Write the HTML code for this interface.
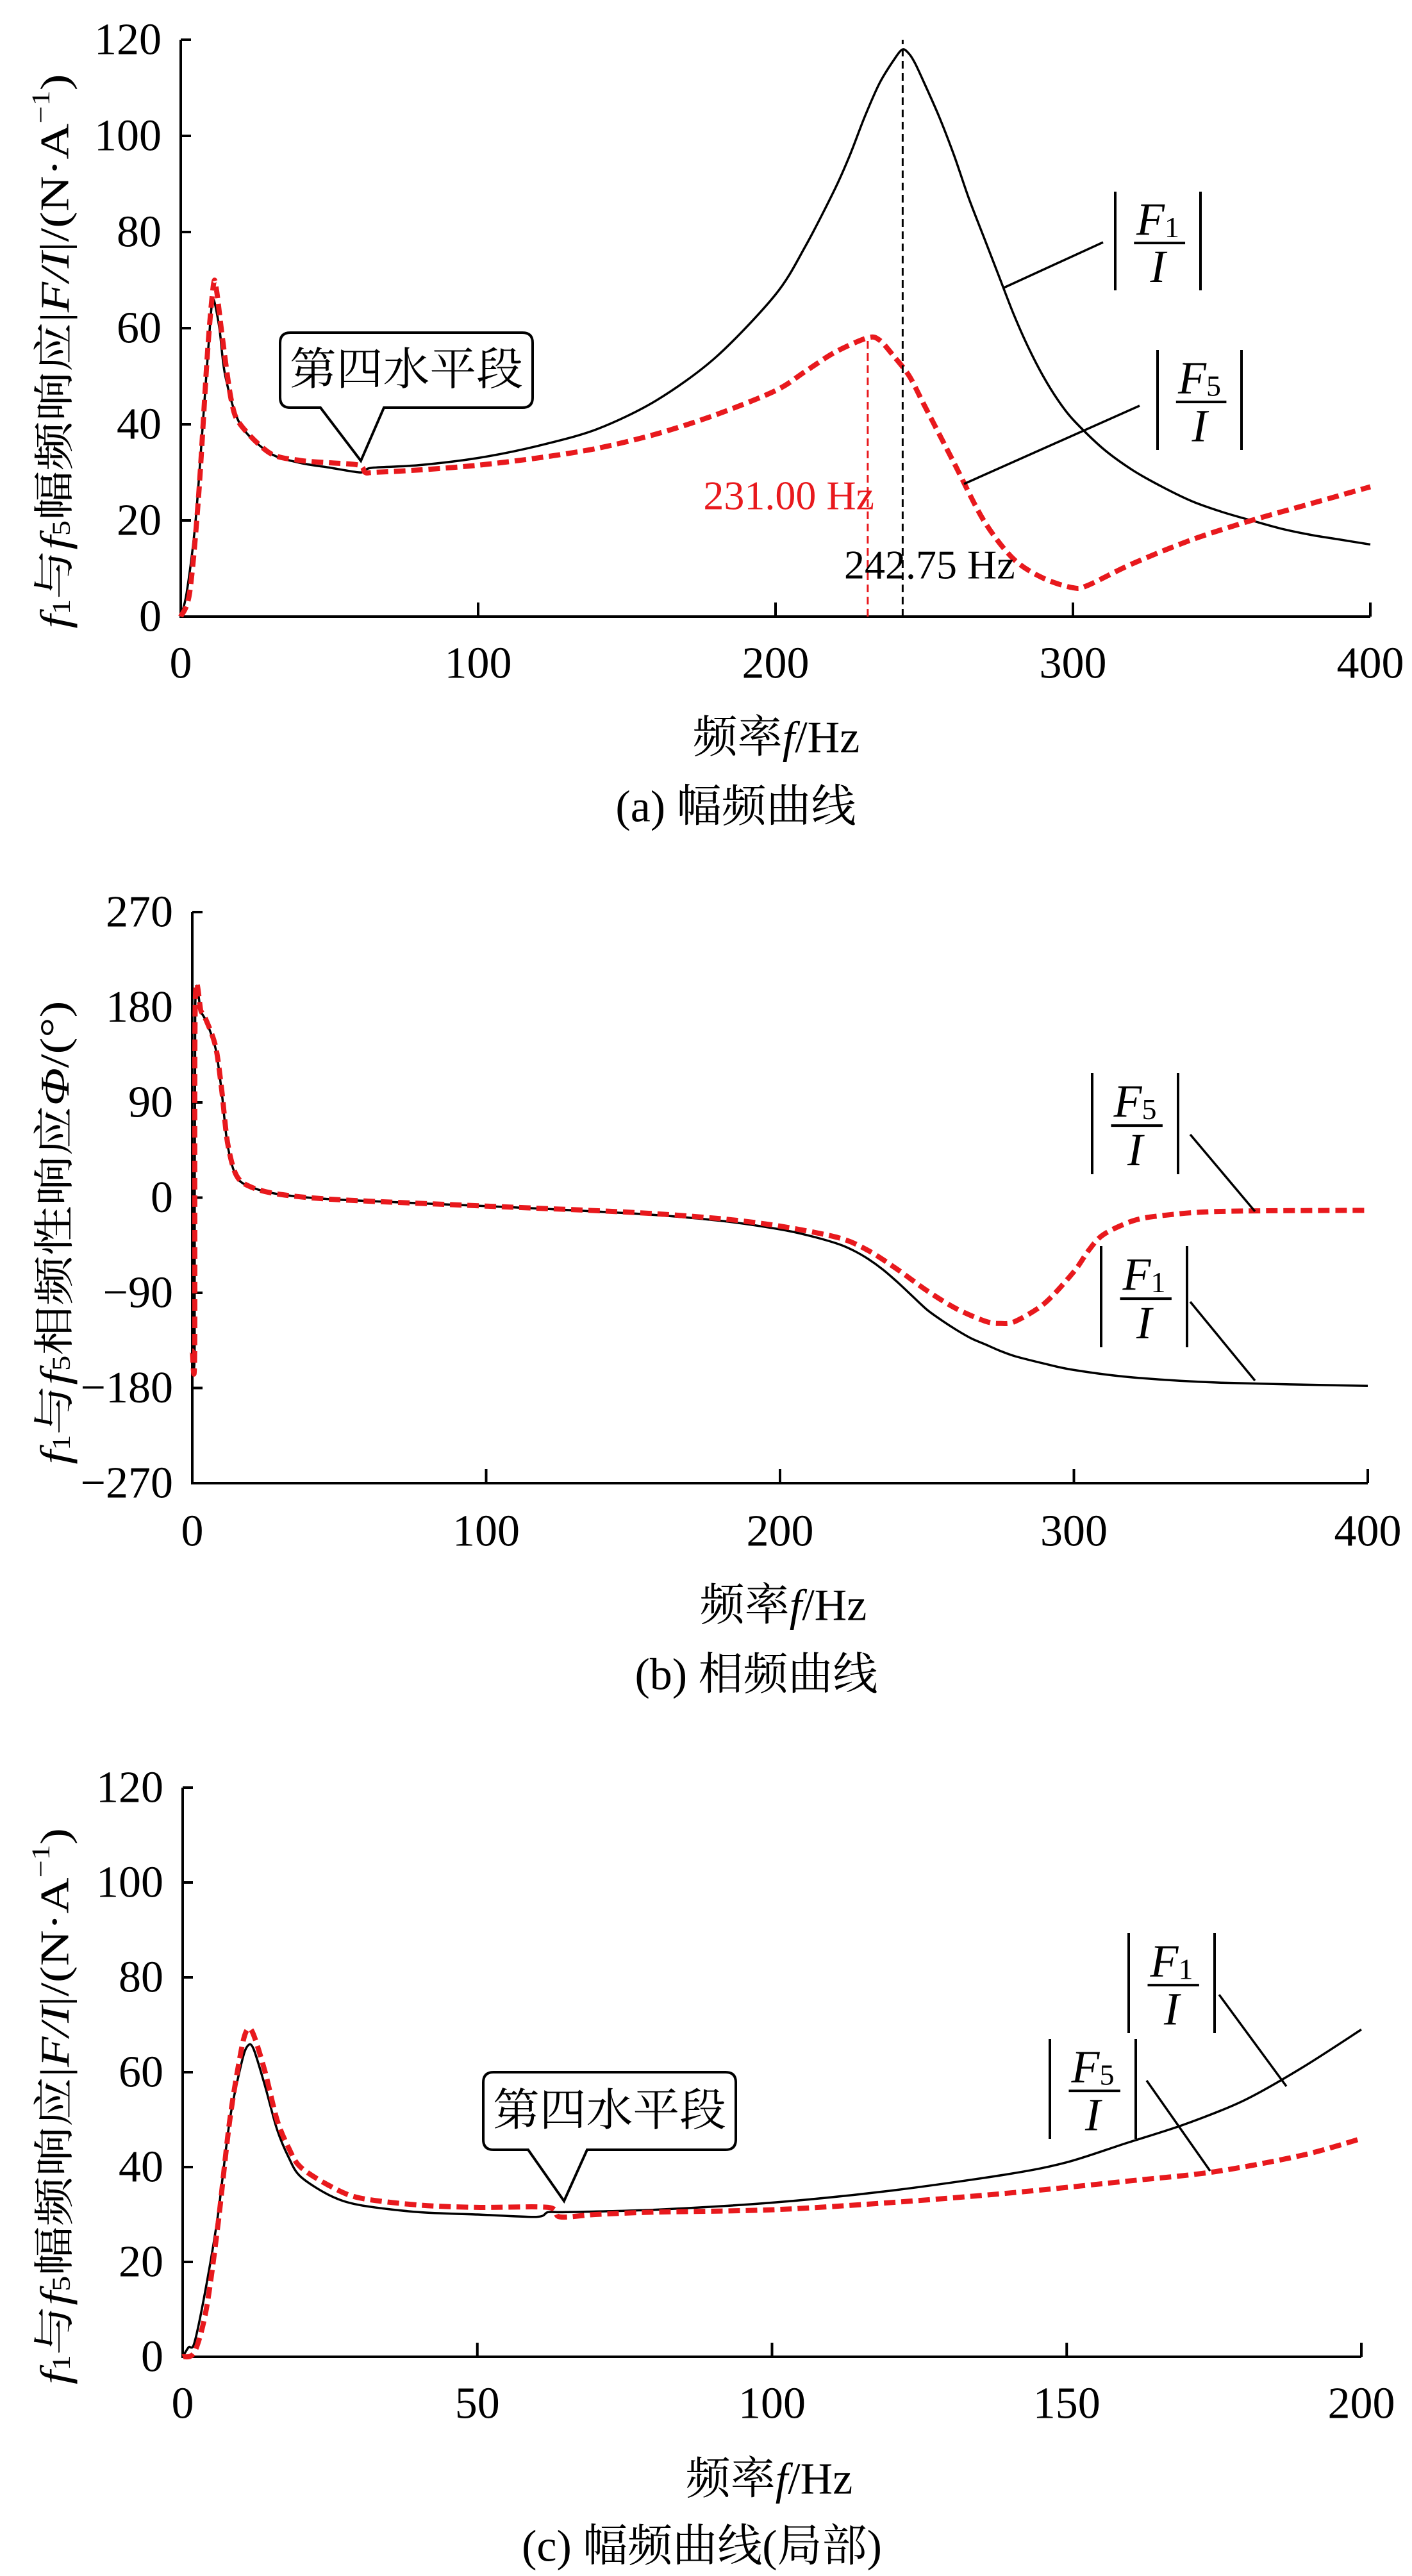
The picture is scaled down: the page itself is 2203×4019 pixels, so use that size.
<!DOCTYPE html>
<html><head><meta charset="utf-8"><style>
html,body{margin:0;padding:0;background:#fff}
svg{display:block}
text{font-family:"Liberation Serif","Noto Serif CJK SC","Noto Sans CJK SC",serif;fill:#000}
</style></head><body>
<svg id="fig" width="2203" height="4019" viewBox="0 0 2203 4019" xmlns="http://www.w3.org/2000/svg"></svg>
<script>
// ---- Panel (a) data ----
const aF1x=[0,2,5,8,10,11,13,15,20,30,40,50,60,62,65,80,100,120,140,160,180,200,210,220,225,230,235,240,242.75,245,247,250,255,260,265,270,275,280,285,290,295,300,310,320,330,340,350,360,370,380,390,400];
const aF1y=[0,5,20,45,62,66,60,50,40,34,32,31,30,30.5,31,31.5,33,35.5,39,45,54,67,77,89,96,104,111,116,118,117,115,111,104,96,87,79,71,63,56,50,45,41,35,30.5,27,24,21.8,20,18.3,17,16,15];
const aF5x=[0,3,6,9,11,12,14,17,20,30,40,50,60,62,65,80,100,120,140,160,180,200,210,220,231,235,240,245,250,260,270,280,290,300,305,320,340,360,380,400];
const aF5y=[0,5,25,55,69,68,58,45,40,34,32.5,32,31.5,30,30,30.5,31.5,33,35,38,42,47,51,55,58,57.5,54,50,44,32,20,12,8,6,6.5,11,16,20,23.5,27];
const aXTicks=[0,100,200,300,400];
const aYTicks=[0,20,40,60,80,100,120];
// ---- Panel (b) data ----
const bF1x=[0,0.8,1,3,5,8,10,12,15,20,30,50,100,150,180,200,210,220,225,230,235,240,245,250,255,260,265,270,275,280,290,300,320,350,400];
const bF1y=[-140,-140,180,175,165,140,100,50,20,10,3,-2,-8,-15,-22,-30,-36,-44,-50,-58,-68,-80,-93,-106,-116,-125,-133,-139,-145,-150,-157,-163,-170,-175,-178];
const bF5x=[0,0.8,1,3,5,8,10,12,15,20,30,50,100,150,180,200,220,230,240,250,260,270,275,280,290,300,305,310,320,330,350,400];
const bF5y=[-145,-145,182,176,166,142,102,52,21,10,3,-2,-8,-14,-20,-27,-38,-50,-68,-88,-105,-117,-119,-117,-100,-70,-50,-35,-22,-17,-13,-12];
const bXTicks=[0,100,200,300,400];
const bYTicks=[-270,-180,-90,0,90,180,270];
// ---- Panel (c) data ----
const cF1x=[0,1,2,4,6,8,10,11,12,14,16,18,20,25,30,40,50,60,62,65,80,100,120,140,150,160,170,180,190,200];
const cF1y=[0,2,3,15,30,50,62,65.5,65,57,48,42,38,34,32,30.5,30,29.5,30.5,30.5,31,32.5,35,38.5,41,45,49,54,61,69];
const cF5x=[0,2,4,6,8,10,11,12,14,16,18,20,25,30,40,50,62,64,70,80,100,120,140,160,175,190,200];
const cF5y=[0,1,10,28,50,65,69,68,60,50,44,40,36,33.5,32,31.5,31.5,29.5,30,30.5,31,32.5,34.5,37,39,42.5,46];
const cXTicks=[0,50,100,150,200];
const cYTicks=[0,20,40,60,80,100,120];

const NS="http://www.w3.org/2000/svg";
const svg=document.getElementById('fig');
function el(tag,attrs,parent){const e=document.createElementNS(NS,tag);for(const k in attrs)e.setAttribute(k,attrs[k]);(parent||svg).appendChild(e);return e;}

function smoothPath(pts){
  let d='M'+pts[0][0].toFixed(1)+','+pts[0][1].toFixed(1);
  for(let i=0;i<pts.length-1;i++){
    const p0=pts[i-1]||pts[i],p1=pts[i],p2=pts[i+1],p3=pts[i+2]||p2;
    const t=0.15;
    const c1=[p1[0]+(p2[0]-p0[0])*t,p1[1]+(p2[1]-p0[1])*t];
    const c2=[p2[0]-(p3[0]-p1[0])*t,p2[1]-(p3[1]-p1[1])*t];
    d+=` C${c1[0].toFixed(1)},${c1[1].toFixed(1)} ${c2[0].toFixed(1)},${c2[1].toFixed(1)} ${p2[0].toFixed(1)},${p2[1].toFixed(1)}`;
  }
  return d;
}

function panel(p){
  const g=el('g',{});
  
  
  const sx=v=>p.x0+(v-p.xmin)/(p.xmax-p.xmin)*(p.x1-p.x0);
  const sy=v=>p.y0+(v-p.ymin)/(p.ymax-p.ymin)*(p.y1-p.y0);
  const ax=el('path',{d:`M${p.x0},${p.y1} L${p.x0},${p.y0} L${p.x1},${p.y0}`,stroke:'#000','stroke-width':4,fill:'none'},g);
  
  
  p.xt.forEach(v=>{
    const x=sx(v);
    if(v!==p.xmin){const t=el('line',{x1:x,y1:p.y0,x2:x,y2:p.y0-22,stroke:'#000','stroke-width':4},g);
    
    }
    const l=el('text',{x:x,y:p.xly,'font-size':70,'text-anchor':'middle','dominant-baseline':'central'},g);
    l.textContent=v;
    
    
  });
  p.yt.forEach(v=>{
    const y=sy(v);
    if(v!==p.ymin){const t=el('line',{x1:p.x0,y1:y,x2:p.x0+16,y2:y,stroke:'#000','stroke-width':4},g);
    
    }
    const l=el('text',{x:p.x0-30,y:y,'font-size':70,'text-anchor':'end','dominant-baseline':'central'},g);
    l.textContent=(v<0?'\u2212'+(-v):v);
    
    
  });
  const mk=(xs,ys,stroke,w,dash,nm)=>{
    const pts=xs.map((v,i)=>[sx(v),sy(ys[i])]);
    const a={d:smoothPath(pts),stroke:stroke,'stroke-width':w,fill:'none','stroke-linejoin':'round'};
    if(dash)a['stroke-dasharray']=dash;
    const s=el('path',a,g);
    
    
  };
  mk(p.f1x,p.f1y,'#000',3.5,null,'series-f1');
  mk(p.f5x,p.f5y,'#e8191d',8,'18,9','series-f5');
  const xt=el('text',{x:p.xtx,y:p.xty,'font-size':70,'text-anchor':'middle','dominant-baseline':'central'},g);
  xt.innerHTML='频率<tspan font-style="italic">f</tspan>/Hz';
  
  
  const yt=el('text',{x:0,y:0,'font-size':64,'text-anchor':'middle','dominant-baseline':'central',transform:`translate(${p.ytx},${p.yty}) rotate(-90)`,textLength:p.ytl,lengthAdjust:'spacingAndGlyphs'},g);
  yt.innerHTML=p.ytitle;
  
  
  const cap=el('text',{x:p.capx,y:p.capy,'font-size':70,'text-anchor':'middle','dominant-baseline':'central'},g);
  cap.textContent=p.caption;
  
  
  return {g,sx,sy};
}

function legendLabel(g,x,y,w,h,sub,name){
  const lg=el('g',{},g);
  
  
  el('line',{x1:x,y1:y,x2:x,y2:y+h,stroke:'#000','stroke-width':4},lg);
  el('line',{x1:x+w,y1:y,x2:x+w,y2:y+h,stroke:'#000','stroke-width':4},lg);
  el('line',{x1:x+w*0.22,y1:y+h*0.52,x2:x+w*0.82,y2:y+h*0.52,stroke:'#000','stroke-width':4},lg);
  const t1=el('text',{x:x+w*0.5,y:y+h*0.28,'font-size':72,'text-anchor':'middle','dominant-baseline':'central','font-style':'italic'},lg);
  t1.innerHTML='F<tspan font-style="normal" font-size="46" dy="12">'+sub+'</tspan>';
  const t2=el('text',{x:x+w*0.5,y:y+h*0.76,'font-size':72,'text-anchor':'middle','dominant-baseline':'central','font-style':'italic'},lg);
  t2.textContent='I';
}
function leader(g,x1,y1,x2,y2){const l=el('line',{x1,y1,x2,y2,stroke:'#000','stroke-width':3.5},g);
  
  }
function callout(g,x,y,w,h,tx,b1,b2){
  const d=`M${x+16},${y} H${x+w-16} Q${x+w},${y} ${x+w},${y+16} V${y+h-16} Q${x+w},${y+h} ${x+w-16},${y+h} H${b2} L${tx[0]},${tx[1]} L${b1},${y+h} H${x+16} Q${x},${y+h} ${x},${y+h-16} V${y+16} Q${x},${y} ${x+16},${y} Z`;
  const c=el('path',{d,fill:'#fff',stroke:'#000','stroke-width':4},g);
  
  
  const t=el('text',{x:x+w/2,y:y+h/2,'font-size':70,'text-anchor':'middle','dominant-baseline':'central',textLength:w-30,lengthAdjust:'spacingAndGlyphs'},g);
  t.textContent='第四水平段';
  
  
}

const magTitle='<tspan font-style="italic">f</tspan><tspan font-size="40" dy="10">1</tspan><tspan dy="-10">与</tspan><tspan font-style="italic">f</tspan><tspan font-size="40" dy="10">5</tspan><tspan dy="-10">幅频响应|</tspan><tspan font-style="italic">F/I</tspan>|/(N·A<tspan font-size="40" dy="-22">−1</tspan><tspan dy="22">)</tspan>';

const A=panel({name:'panel-a-magnitude',x0:282,x1:2138,y0:962,y1:62,xmin:0,xmax:400,ymin:0,ymax:120,xt:aXTicks,yt:aYTicks,
  f1x:aF1x,f1y:aF1y,f5x:aF5x,f5y:aF5y,xly:1035,xtx:1211,xty:1151,ytx:85,yty:548,ytl:865,ytitle:magTitle,capx:1148,capy:1259,caption:'(a) 幅频曲线'});
{const g=A.g;
 let v=el('line',{x1:A.sx(231),y1:A.sy(0),x2:A.sx(231),y2:A.sy(58),stroke:'#e8191d','stroke-width':3,'stroke-dasharray':'12,7'},g);
 
 
 v=el('line',{x1:A.sx(242.75),y1:A.sy(0),x2:A.sx(242.75),y2:A.sy(120),stroke:'#000','stroke-width':3,'stroke-dasharray':'12,7'},g);
 
 
 let t=el('text',{x:1364,y:773,'font-size':64,'text-anchor':'end','dominant-baseline':'central',style:'fill:#e8191d'},g);
 t.textContent='231.00 Hz';
 
 
 t=el('text',{x:1317,y:881,'font-size':64,'dominant-baseline':'central'},g);
 t.textContent='242.75 Hz';
 
 
 legendLabel(g,1740,299,133,154,'1','legend-f1');
 leader(g,1566,449,1721,378);
 legendLabel(g,1806,546,131,156,'5','legend-f5');
 leader(g,1504,755,1778,633);
 callout(g,437,519,394,117,[563,719],500,599);
}

const B=panel({name:'panel-b-phase',x0:300,x1:2134,y0:2314,y1:1423,xmin:0,xmax:400,ymin:-270,ymax:270,xt:bXTicks,yt:bYTicks,
  f1x:bF1x,f1y:bF1y,f5x:bF5x,f5y:bF5y,xly:2389,xtx:1222,xty:2505,ytx:85,yty:1923,ytl:723,
  ytitle:'<tspan font-style="italic">f</tspan><tspan font-size="40" dy="10">1</tspan><tspan dy="-10">与</tspan><tspan font-style="italic">f</tspan><tspan font-size="40" dy="10">5</tspan><tspan dy="-10">相频性响应</tspan><tspan font-style="italic">Φ</tspan>/(°)',
  capx:1180,capy:2613,caption:'(b) 相频曲线'});
legendLabel(B.g,1704,1674,134,158,'5','legend-f5');
leader(B.g,1857,1770,1958,1890);
legendLabel(B.g,1718,1944,134,158,'1','legend-f1');
leader(B.g,1857,2031,1958,2154);

const C=panel({name:'panel-c-magnitude-detail',x0:285,x1:2124,y0:3677,y1:2789,xmin:0,xmax:200,ymin:0,ymax:120,xt:cXTicks,yt:cYTicks,
  f1x:cF1x,f1y:cF1y,f5x:cF5x,f5y:cF5y,xly:3750,xtx:1200,xty:3868,ytx:85,yty:3286,ytl:868,ytitle:magTitle,capx:1095,capy:3973,caption:'(c) 幅频曲线(局部)'});
legendLabel(C.g,1761,3016,134,156,'1','legend-f1');
leader(C.g,1902,3112,2007,3255);
legendLabel(C.g,1638,3181,134,156,'5','legend-f5');
leader(C.g,1789,3246,1888,3387);
callout(C.g,754,3233,394,121,[880,3434],824,916);
</script>
</body></html>
